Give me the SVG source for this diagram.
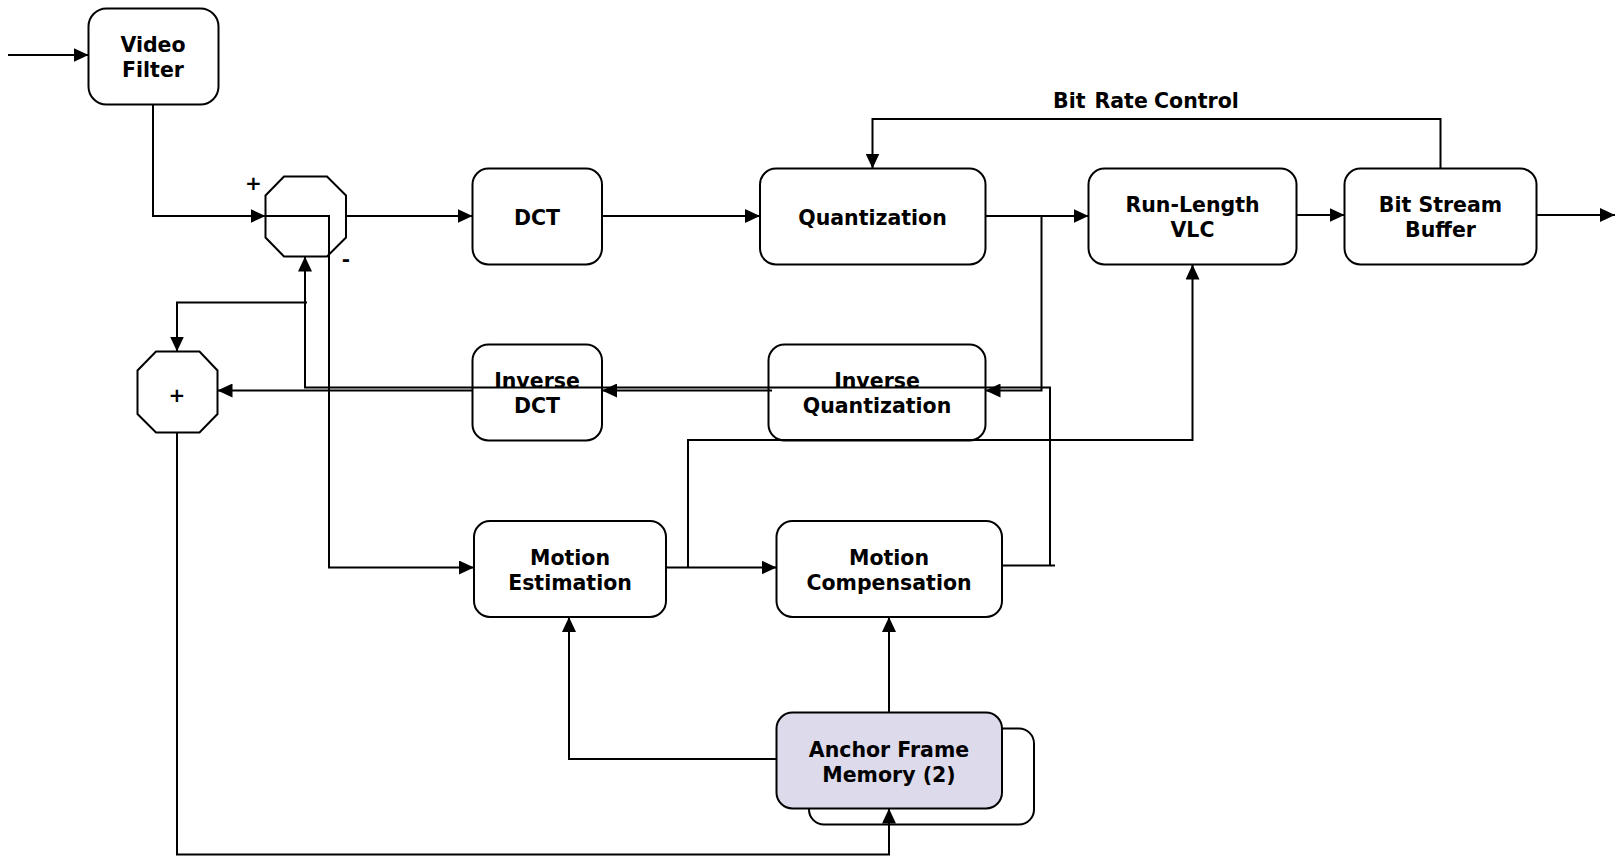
<svg xmlns="http://www.w3.org/2000/svg" width="1620" height="856" viewBox="0 0 1620 856">
  <defs>
    <marker id="arrow" markerUnits="userSpaceOnUse" markerWidth="15" markerHeight="14" refX="15" refY="7" orient="auto">
      <path d="M0,0 L15,7 L0,14 z" fill="#000"/>
    </marker>
    <style>
      .box { fill: #fff; stroke: #000; stroke-width: 2; }
      .mem { fill: #dcdaeb; stroke: #000; stroke-width: 2; }
      .sum { fill: #fff; stroke: #000; stroke-width: 2; }
      .lbl { font-family: "DejaVu Sans", Verdana, sans-serif; font-weight: bold; font-size: 20.5px; fill: #000; text-anchor: middle; }
      .sign { font-family: "DejaVu Sans", Verdana, sans-serif; font-weight: bold; font-size: 20px; fill: #000; text-anchor: middle; }
      .wire { fill: none; stroke: #000; stroke-width: 2; }
      .arr { marker-end: url(#arrow); }
    </style>
  </defs>
  <rect width="1620" height="856" fill="#fff"/>

  <!-- processing blocks -->
  <g id="video-filter">
    <rect class="box" x="88.5" y="8.5" width="130" height="96" rx="18"/>
    <text class="lbl" x="153" y="51.5">Video</text>
    <text class="lbl" x="153" y="76.5">Filter</text>
  </g>

  <g id="subtractor">
    <polygon class="sum" points="284,176.5 327,176.5 346,195.5 346,237.5 327,256.5 284,256.5 265.5,237.5 265.5,195.5"/>
    <text class="sign" x="253.5" y="190">+</text>
    <text class="sign" x="346" y="266">-</text>
  </g>

  <g id="adder">
    <polygon class="sum" points="156,351.5 199.5,351.5 217.5,370.5 217.5,414 199.5,432.5 156,432.5 137.5,414 137.5,370.5"/>
    <text class="sign" x="177" y="402">+</text>
  </g>

  <g id="dct">
    <rect class="box" x="472.5" y="168.5" width="129.5" height="96" rx="16"/>
    <text class="lbl" x="537" y="225">DCT</text>
  </g>

  <g id="quantization">
    <rect class="box" x="760" y="168.5" width="225.5" height="96" rx="16"/>
    <text class="lbl" x="872.5" y="225">Quantization</text>
  </g>

  <g id="run-length-vlc">
    <rect class="box" x="1088.5" y="168.5" width="208" height="96" rx="16"/>
    <text class="lbl" x="1192.5" y="212">Run-Length</text>
    <text class="lbl" x="1192.5" y="237">VLC</text>
  </g>

  <g id="bit-stream-buffer">
    <rect class="box" x="1344.5" y="168.5" width="192" height="96" rx="16"/>
    <text class="lbl" x="1440.5" y="212">Bit Stream</text>
    <text class="lbl" x="1440.5" y="237">Buffer</text>
  </g>

  <g id="inverse-dct">
    <rect class="box" x="472.5" y="344.5" width="129.5" height="96" rx="16"/>
    <text class="lbl" x="537" y="387.5">Inverse</text>
    <text class="lbl" x="537" y="413">DCT</text>
  </g>

  <g id="inverse-quantization">
    <rect class="box" x="768.5" y="344.5" width="217" height="96" rx="16"/>
    <text class="lbl" x="877" y="387.5">Inverse</text>
    <text class="lbl" x="877" y="413">Quantization</text>
  </g>

  <g id="motion-estimation">
    <rect class="box" x="474" y="521" width="192" height="96" rx="16"/>
    <text class="lbl" x="570" y="565">Motion</text>
    <text class="lbl" x="570" y="590">Estimation</text>
  </g>

  <g id="motion-compensation">
    <rect class="box" x="776.5" y="521" width="225.5" height="96" rx="16"/>
    <text class="lbl" x="889" y="565">Motion</text>
    <text class="lbl" x="889" y="590">Compensation</text>
  </g>

  <g id="anchor-frame-memory">
    <rect class="box" x="809" y="728.5" width="225" height="96" rx="15"/>
    <rect class="mem" x="776.5" y="712.5" width="225.5" height="96" rx="16"/>
    <text class="lbl" x="889" y="756.5">Anchor Frame</text>
    <text class="lbl" x="889" y="781.5">Memory (2)</text>
  </g>

  <g id="bit-rate-control-label">
    <text class="lbl" style="text-anchor:start" y="108"><tspan x="1053">Bit</tspan><tspan x="1094.5">Rate</tspan><tspan x="1154">Control</tspan></text>
  </g>

  <!-- signal paths -->
  <g id="connectors">
    <path class="wire arr" d="M8,55 H88.5"/>
    <path class="wire arr" d="M153,104.5 V216 H265.5"/>
    <path class="wire arr" d="M265.5,216 H329 V567.5 H474"/>
    <path class="wire arr" d="M346,216 H472.5"/>
    <path class="wire arr" d="M602,216 H760"/>
    <path class="wire arr" d="M985.5,216 H1088.5"/>
    <path class="wire arr" d="M1041.5,216 V390.5 H985.5"/>
    <path class="wire arr" d="M1296.5,215 H1344.5"/>
    <path class="wire arr" d="M1536.5,215 H1615"/>
    <path class="wire arr" d="M1440.5,168.5 V119 H872.5 V168.5"/>
    <path class="wire arr" d="M772,390.5 H602"/>
    <path class="wire arr" d="M472.5,390.5 H217.5"/>
    <path class="wire" d="M1002,565.5 H1055"/>
    <path class="wire arr" d="M1050,565.5 V387.5 H305 V256.5"/>
    <path class="wire arr" d="M307,302.5 H177 V351.5"/>
    <path class="wire arr" d="M666,567.5 H776.5"/>
    <path class="wire arr" d="M688,567.5 V440 H1192.5 V264.5"/>
    <path class="wire arr" d="M776.5,759 H569 V617"/>
    <path class="wire arr" d="M889,712.5 V617"/>
    <path class="wire arr" d="M177,432.5 V854.5 H889 V808.5"/>
  </g>
</svg>
